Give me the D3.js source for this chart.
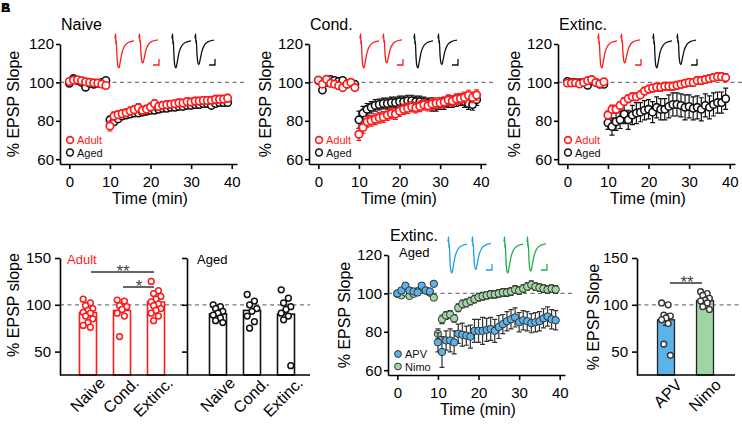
<!DOCTYPE html>
<html><head><meta charset="utf-8">
<script src="https://cdn.jsdelivr.net/npm/d3@7"></script>
<style>
body{margin:0;background:#fff;}
svg{display:block;font-family:"Liberation Sans",Arial,Helvetica,sans-serif;}
</style></head><body>
<svg id="c" width="742" height="424"></svg>
<script>
// ---------------- DATA ----------------
const minutes = [0,1,2,3,4,5,6,7,8,9,10,11,12,13,14,15,16,17,18,19,20,21,22,23,24,25,26,27,28,29,30,31,32,33,34,35,36,37,38,39];
const timeTicks = [0,10,20,30,40];
const slopeTicks = [60,80,100,120];
const barTicks = [50,100,150];

const naiveAdult = [100.5,101.2,101.4,100.9,100.3,100.0,99.8,99.6,99.1,98.4, 77.3,82.5,83.2,83.7,84.2,85.1,85.8,86.8,85.5,86.1, 87.2,88.9,87.5,88.1,88.4,88.6,88.9,89.4,89.3,90.0, 89.8,90.3,90.3,90.6,90.6,90.7,91.2,91.2,91.3,91.8];
const naiveAdultErr = [0.8,0.8,0.9,0.8,0.8,0.8,0.8,0.8,0.9,0.9, 2.6,2.2,2.0,2.0,2.0,2.1,2.0,2.2,2.0,2.0, 2.0,2.0,1.9,1.9,1.9,1.9,1.9,1.9,1.9,1.9, 1.9,1.9,1.9,1.9,1.9,1.9,2.0,2.0,2.0,2.0];
const naiveAged = [99.5,102.0,101.0,100.0,97.5,99.5,99.0,99.5,100.0,101.0, 80.5,79.5,81.0,82.5,83.0,83.5,84.0,84.0,84.5,85.0, 85.5,85.5,86.0,86.5,86.5,87.0,87.0,87.5,87.5,88.0, 88.0,88.5,88.5,89.0,89.0,88.0,89.0,89.5,89.5,89.5];
const naiveAgedErr = [0.8,0.9,0.8,0.8,0.9,0.8,0.8,0.8,0.8,0.9, 1.8,1.7,1.6,1.6,1.6,1.6,1.6,1.6,1.6,1.6, 1.6,1.6,1.6,1.6,1.6,1.6,1.6,1.6,1.6,1.6, 1.6,1.6,1.6,1.6,1.6,1.6,1.6,1.6,1.6,1.6];

const condAdult = [101.2,99.1,101.6,99.5,99.1,98.3,97.3,99.1,100.0,97.3, 73.0,76.5,79.5,80.0,80.8,81.6,82.0,83.0,83.8,83.5, 85.0,86.0,86.5,87.3,86.8,87.5,88.3,87.8,88.8,89.2, 89.3,89.8,90.8,90.3,91.3,91.6,92.2,93.2,92.2,93.4];
const condAdultErr = [1.0,1.0,1.0,1.0,1.0,1.0,1.0,1.0,1.0,1.0, 3.2,3.0,2.8,2.8,2.8,2.8,2.8,2.8,2.8,2.8, 2.7,2.7,2.7,2.7,2.7,2.7,2.7,2.7,2.7,2.7, 2.7,2.7,2.7,2.7,2.7,2.7,2.7,2.7,2.7,2.7];
const condAged = [101.0,96.0,100.0,101.5,101.0,100.5,101.0,99.0,100.0,99.0, 80.5,84.0,86.0,87.0,88.0,88.5,89.0,89.0,89.5,89.5, 90.0,90.0,90.5,90.5,90.0,90.0,89.5,89.0,88.5,88.0, 89.0,89.0,90.0,90.0,90.5,91.0,90.0,89.0,88.5,91.0];
const condAgedErr = [1.2,1.2,1.2,1.2,1.2,1.2,1.2,1.2,1.2,1.2, 4.5,3.5,3.0,3.0,3.0,2.8,2.8,2.8,2.8,2.8, 2.8,2.8,2.8,2.8,2.8,2.8,2.8,2.8,3.5,3.0, 3.0,3.0,3.0,3.0,3.0,3.0,3.0,3.0,3.0,3.0];

const extAdult = [99.7,99.7,99.8,99.2,100.0,100.9,101.5,99.9,99.3,100.3, 83.0,86.0,86.0,88.0,90.0,91.5,92.5,92.5,93.5,95.5, 96.5,97.0,97.5,97.5,98.0,98.0,98.0,98.5,99.0,99.5, 100.0,100.0,101.0,101.0,101.5,102.0,102.5,103.0,103.0,102.5];
const extAdultErr = [0.8,0.8,0.8,0.8,0.8,0.8,0.8,0.8,0.8,0.8, 2.2,2.2,2.0,2.0,2.0,2.0,2.0,2.0,2.0,2.0, 2.0,2.0,2.0,2.0,2.0,2.0,2.0,2.0,2.0,2.0, 2.0,2.0,2.0,2.0,2.0,2.0,2.0,2.0,2.0,2.0];
const extAged = [100.5,100.0,100.0,99.8,100.0,98.5,101.0,100.0,99.0,99.0, 79.0,77.0,79.5,80.5,83.5,80.5,83.0,84.0,84.5,85.5, 86.0,84.5,87.0,86.0,86.0,87.5,88.5,88.5,88.0,87.0, 87.5,86.5,87.0,86.0,88.0,87.0,88.5,89.5,89.5,91.5];
const extAgedErr = [1.0,1.0,1.0,1.0,1.0,1.0,1.0,1.0,1.0,1.0, 3.5,4.5,4.5,4.5,5.0,5.0,5.0,5.5,5.0,5.0, 5.0,5.5,5.5,5.5,5.5,6.0,6.0,6.0,6.0,6.5, 6.0,6.0,6.0,6.0,6.0,6.0,6.0,5.5,5.5,5.5];

const apv = [100.0,101.5,104.0,101.5,101.0,100.5,104.0,101.5,101.0,105.0, 74.5,69.5,75.5,75.5,74.5,79.0,78.5,78.0,77.5,80.5, 80.5,80.5,81.0,81.5,80.5,82.5,84.0,85.5,86.5,87.5, 85.0,86.0,85.5,84.5,85.0,85.5,87.0,88.0,86.5,86.0];
const apvErr = [1.2,1.2,1.2,1.2,1.2,1.2,1.2,1.2,1.2,1.2, 5.0,8.0,5.0,6.0,6.0,5.0,6.0,5.0,6.0,6.0, 6.0,7.0,6.0,6.0,6.0,6.0,5.0,5.0,5.0,5.0, 5.0,5.0,5.0,5.0,5.0,5.0,5.0,5.0,5.0,5.0];
const nimo = [99.8,99.0,100.4,98.7,99.8,101.2,102.0,101.5,100.4,97.8, 79.0,86.5,88.5,89.0,87.0,92.5,94.5,95.0,96.0,97.0, 98.0,98.5,99.0,99.5,99.5,100.0,100.5,100.5,101.0,102.0, 101.5,102.5,103.5,104.5,103.5,103.0,102.5,102.0,102.5,102.0];
const nimoErr = [0.8,0.8,0.8,0.8,0.8,0.8,0.8,0.8,0.8,0.8, 2.5,2.2,2.0,2.0,2.0,2.0,2.0,2.0,2.0,2.0, 2.0,2.0,2.0,2.0,2.0,2.0,2.0,2.0,2.0,2.0, 2.0,2.0,2.0,2.0,2.0,2.0,2.0,2.0,2.0,2.0];

const barGroups = ["Naive","Cond.","Extinc."];
const adultMeans = [91.7, 93.9, 102.9];
const agedMeans = [90.3, 94.0, 90.0];
const adultDots = [
  [106,102,99,96,94,92,91,88,85,81,78,76],
  [105,104,99,98,95,91,88,66],
  [125,115,112,109,106,103,101,99,96,94,91,88,83]
];
const agedDots = [
  [100,98,96,93,91,89,86,83,81],
  [111,104,100,96,93,88,82,75],
  [116,107,102,98,95,91,88,84,35]
];
const drugGroups = ["APV","Nimo"];
const drugMeans = [84.0, 104.5];
const drugErr = [6.0, 2.0];
const drugDots = [
  [102,100,89,88,86,84,80,58,46],
  [114,112,110,107,105,104,102,98,95]
];

// example trace shape (normalised time / voltage)
const traceTime = [0,0.03,0.05,0.07,0.1,0.16,0.21,0.27,0.37,0.5,0.7,1];
const traceVolt = [0.14,0,0.3,0.2,0.6,0.96,1,0.84,0.55,0.36,0.25,0.2];

// ---------------- STYLE ----------------
const RED = "#FF1A1A", BLACK = "#111", BLUE_T = "#1FA0E6", GREEN_T = "#1FB04F";
const BLUE_F = "#5DB2EA", GREEN_F = "#9FD6A3";
const svg = d3.select("#c");

function styleAxis(sel, fs){
  sel.selectAll("path,line").attr("stroke","#000").attr("stroke-width",1.6);
  sel.selectAll("text").attr("font-size",fs).attr("fill","#000").attr("font-family",'"Liberation Sans",Arial,sans-serif');
}

function drawTrace(g, x0, top, w, h, amp, color, bar){
  const tx = d3.scaleLinear().domain([0,1]).range([x0, x0+w]);
  const ty = d3.scaleLinear().domain([0,1]).range([top, top+h]);
  const line = d3.line().x((d,i)=>tx(traceTime[i])).y(d=>ty(d*amp)).curve(d3.curveMonotoneX);
  g.append("path").attr("d", line(traceVolt)).attr("fill","none").attr("stroke",color).attr("stroke-width",1.3);
  if(bar){
    const bx = x0+w+1, by = top+h-3;
    g.append("path").attr("d",`M${bx-6},${by}H${bx}V${by-6}`).attr("fill","none").attr("stroke",color).attr("stroke-width",1.3);
  }
}

function timePanel(o){
  const g = svg.append("g");
  const x = d3.scaleLinear().domain([-2.3, 41.3]).range([o.ax, o.ax+177]);
  const y = d3.scaleLinear().domain([57.5, 120]).range([o.bottom, o.bottom-120]);
  g.append("line").attr("x1",o.ax).attr("x2",o.ax+184).attr("y1",y(100)).attr("y2",y(100))
    .attr("stroke","#777").attr("stroke-width",1.3).attr("stroke-dasharray","4,3.5");
  const xa = g.append("g").attr("transform",`translate(0,${o.bottom})`)
    .call(d3.axisBottom(x).tickValues(timeTicks).tickSize(5).tickSizeOuter(0).tickPadding(7));
  styleAxis(xa, 15);
  const ya = g.append("g").attr("transform",`translate(${o.ax},0)`)
    .call(d3.axisLeft(y).tickValues(slopeTicks).tickSize(4).tickSizeOuter(0).tickPadding(2));
  styleAxis(ya, 15);
  g.append("text").attr("x",o.ax+90).attr("y",o.bottom+40).attr("text-anchor","middle").attr("font-size",16).text("Time (min)");
  g.append("text").attr("transform",`translate(${o.ylx},${o.bottom-60}) rotate(-90)`).attr("text-anchor","middle").attr("font-size",16).text("% EPSP Slope");
  o.series.forEach(s=>{
    const sg = g.append("g");
    minutes.forEach((t,i)=>{
      const v = s.v[i], e = s.e[i], cx = x(t);
      sg.append("path").attr("d",`M${cx},${y(v-e)}V${y(v+e)}M${cx-2.5},${y(v-e)}H${cx+2.5}M${cx-2.5},${y(v+e)}H${cx+2.5}`)
        .attr("stroke",s.stroke).attr("stroke-width",1.2).attr("fill","none");
    });
    sg.selectAll("circle").data(s.v).join("circle")
      .attr("cx",(d,i)=>x(minutes[i])).attr("cy",d=>y(d)).attr("r",3.7)
      .attr("fill",s.fill).attr("stroke",s.stroke).attr("stroke-width",s.sw);
  });
  o.legend.forEach((l,i)=>{
    const ly = o.legY + i*12.5;
    g.append("circle").attr("cx",o.ax+10).attr("cy",ly).attr("r",3.4).attr("fill",l.fill).attr("stroke",l.stroke).attr("stroke-width",l.sw);
    g.append("text").attr("x",o.ax+17).attr("y",ly+4).attr("font-size",11).attr("fill",l.text).text(l.name);
  });
  o.traces.forEach(t=>drawTrace(g, o.ax+t.dx, o.traceTop, 19, o.traceH, t.amp, t.color, t.bar));
  return g;
}

// ---------------- PANEL A ----------------
const adultS = (v,e)=>({v,e,fill:"#fff",stroke:RED,sw:1.7});
const agedS = (v,e)=>({v,e,fill:"#fff",stroke:BLACK,sw:1.6});
const legA = [{name:"Adult",fill:"#fff",stroke:RED,sw:1.6,text:RED},{name:"Aged",fill:"#fff",stroke:BLACK,sw:1.5,text:BLACK}];

[
  {ax:60, ylx:19, title:"Naive", aged:[naiveAged,naiveAgedErr], adult:[naiveAdult,naiveAdultErr], tr:[55,79,112,135]},
  {ax:309, ylx:271, title:"Cond.", aged:[condAged,condAgedErr], adult:[condAdult,condAdultErr], tr:[51,74,105,129]},
  {ax:558, ylx:520, title:"Extinc.", aged:[extAged,extAgedErr], adult:[extAdult,extAdultErr], tr:[40,63,95,119]}
].forEach(p=>{
  const g = timePanel({ax:p.ax, bottom:164, ylx:p.ylx, legY:140,
    series:[agedS(...p.aged), adultS(...p.adult)], legend:legA,
    traceTop:34, traceH:34,
    traces:[{dx:p.tr[0],amp:1,color:RED},{dx:p.tr[1],amp:0.85,color:RED,bar:true},
            {dx:p.tr[2],amp:1,color:BLACK},{dx:p.tr[3],amp:0.9,color:BLACK,bar:true}]});
  g.append("text").attr("x",p.ax+1).attr("y",30).attr("font-size",16).text(p.title);
});

// ---------------- PANEL C ----------------
{
  const g = timePanel({ax:388, bottom:375, ylx:350, legY:354,
    series:[{v:nimo,e:nimoErr,fill:GREEN_F,stroke:"#333",sw:1}, {v:apv,e:apvErr,fill:BLUE_F,stroke:"#333",sw:1}],
    legend:[{name:"APV",fill:BLUE_F,stroke:"#333",sw:1,text:"#111"},{name:"Nimo",fill:GREEN_F,stroke:"#333",sw:1,text:"#111"}],
    traceTop:237, traceH:36,
    traces:[{dx:60,amp:1,color:BLUE_T},{dx:84,amp:0.9,color:BLUE_T,bar:true},
            {dx:116,amp:1,color:GREEN_T},{dx:139,amp:0.95,color:GREEN_T,bar:true}]});
  g.append("text").attr("x",390).attr("y",241).attr("font-size",16).text("Extinc.");
  g.append("text").attr("x",399).attr("y",257).attr("font-size",13).text("Aged");
}

// ---------------- PANEL B ----------------
{
  const g = svg.append("g");
  const y = d3.scaleLinear().domain([25,150]).range([375,258]);
  const xAd = d3.scalePoint().domain(barGroups).range([88,156]);
  const xAg = d3.scalePoint().domain(barGroups).range([218,286]);
  g.append("line").attr("x1",60).attr("x2",310).attr("y1",y(100)).attr("y2",y(100))
    .attr("stroke","#777").attr("stroke-width",1.3).attr("stroke-dasharray","4,3.5");
  const drawGroup = (xs, means, dots, col)=>{
    barGroups.forEach((k,i)=>{
      const c = xs(k);
      g.append("rect").attr("x",c-8.5).attr("width",17).attr("y",y(means[i])).attr("height",y(25)-y(means[i]))
        .attr("fill","#fff").attr("stroke",col).attr("stroke-width",1.6);
      dots[i].forEach((d,j)=>{
        g.append("circle").attr("cx",c+((j*3)%5-2)*2.4).attr("cy",y(d)).attr("r",2.9)
          .attr("fill","#fff").attr("stroke",col).attr("stroke-width",1.5);
      });
      g.append("text").attr("transform",`translate(${c+18},384) rotate(-45)`).attr("text-anchor","end")
        .attr("font-size",16).text(k);
    });
  };
  drawGroup(xAd, adultMeans, adultDots, RED);
  drawGroup(xAg, agedMeans, agedDots, BLACK);
  const ya = g.append("g").attr("transform","translate(60,0)")
    .call(d3.axisLeft(y).tickValues(barTicks).tickSize(5).tickSizeOuter(0).tickPadding(4));
  styleAxis(ya, 15);
  const ya2 = g.append("g").attr("transform","translate(187,0)")
    .call(d3.axisLeft(y).tickValues(barTicks).tickSize(5).tickSizeOuter(0).tickFormat(""));
  styleAxis(ya2, 15);
  g.append("line").attr("x1",60).attr("x2",310).attr("y1",375).attr("y2",375).attr("stroke","#000").attr("stroke-width",1.6);
  g.append("text").attr("transform","translate(19,305) rotate(-90)").attr("text-anchor","middle").attr("font-size",16).text("% EPSP slope");
  g.append("text").attr("x",67).attr("y",264).attr("font-size",13).attr("fill",RED).text("Adult");
  g.append("text").attr("x",197).attr("y",264).attr("font-size",13).text("Aged");
  // significance
  g.append("line").attr("x1",xAd("Naive")+3).attr("x2",xAd("Extinc.")-2).attr("y1",272).attr("y2",272).attr("stroke","#333").attr("stroke-width",1.5);
  g.append("text").attr("x",(xAd("Naive")+xAd("Extinc."))/2+1).attr("y",277).attr("text-anchor","middle").attr("font-size",17).attr("fill","#444").text("**");
  g.append("line").attr("x1",xAd("Cond.")+1).attr("x2",xAd("Extinc.")-2).attr("y1",287).attr("y2",287).attr("stroke","#333").attr("stroke-width",1.5);
  g.append("text").attr("x",(xAd("Cond.")+xAd("Extinc."))/2).attr("y",292).attr("text-anchor","middle").attr("font-size",17).attr("fill","#444").text("*");
}

// ---------------- PANEL D ----------------
{
  const g = svg.append("g");
  const y = d3.scaleLinear().domain([25,150]).range([375,258]);
  const x = d3.scalePoint().domain(drugGroups).range([666,705]);
  const fills = [BLUE_F, GREEN_F];
  g.append("line").attr("x1",637).attr("x2",742).attr("y1",y(100)).attr("y2",y(100))
    .attr("stroke","#777").attr("stroke-width",1.3).attr("stroke-dasharray","4,3.5");
  drugGroups.forEach((k,i)=>{
    const c = x(k);
    g.append("rect").attr("x",c-8.5).attr("width",17).attr("y",y(drugMeans[i])).attr("height",y(25)-y(drugMeans[i]))
      .attr("fill",fills[i]).attr("stroke","#222").attr("stroke-width",1.3);
    const lo = y(drugMeans[i]-drugErr[i]), hi = y(drugMeans[i]+drugErr[i]);
    g.append("path").attr("d",`M${c},${lo}V${hi}M${c-3},${lo}H${c+3}M${c-3},${hi}H${c+3}`).attr("stroke","#222").attr("stroke-width",1.3);
    drugDots[i].forEach((d,j)=>{
      g.append("circle").attr("cx",c+((j*3)%5-2)*2.2).attr("cy",y(d)).attr("r",2.9)
        .attr("fill","#fff").attr("stroke","#333").attr("stroke-width",1.4);
    });
    g.append("text").attr("transform",`translate(${c+17},386) rotate(-45)`).attr("text-anchor","end")
      .attr("font-size",16).text(k);
  });
  const ya = g.append("g").attr("transform","translate(637,0)")
    .call(d3.axisLeft(y).tickValues(barTicks).tickSize(5).tickSizeOuter(0).tickPadding(4));
  styleAxis(ya, 15);
  g.append("line").attr("x1",637).attr("x2",735).attr("y1",375).attr("y2",375).attr("stroke","#000").attr("stroke-width",1.6);
  g.append("text").attr("transform","translate(599,317) rotate(-90)").attr("text-anchor","middle").attr("font-size",16).text("% EPSP Slope");
  g.append("line").attr("x1",670).attr("x2",702).attr("y1",283).attr("y2",283).attr("stroke","#333").attr("stroke-width",1.5);
  g.append("text").attr("x",687).attr("y",288).attr("text-anchor","middle").attr("font-size",17).attr("fill","#444").text("**");
}

// panel letters (overlapping in the original)
svg.append("text").attr("x",1).attr("y",12).attr("font-size",13).attr("font-weight","bold").text("A");
svg.append("text").attr("x",1).attr("y",12).attr("font-size",13).attr("font-weight","bold").text("B");
</script>
</body></html>
